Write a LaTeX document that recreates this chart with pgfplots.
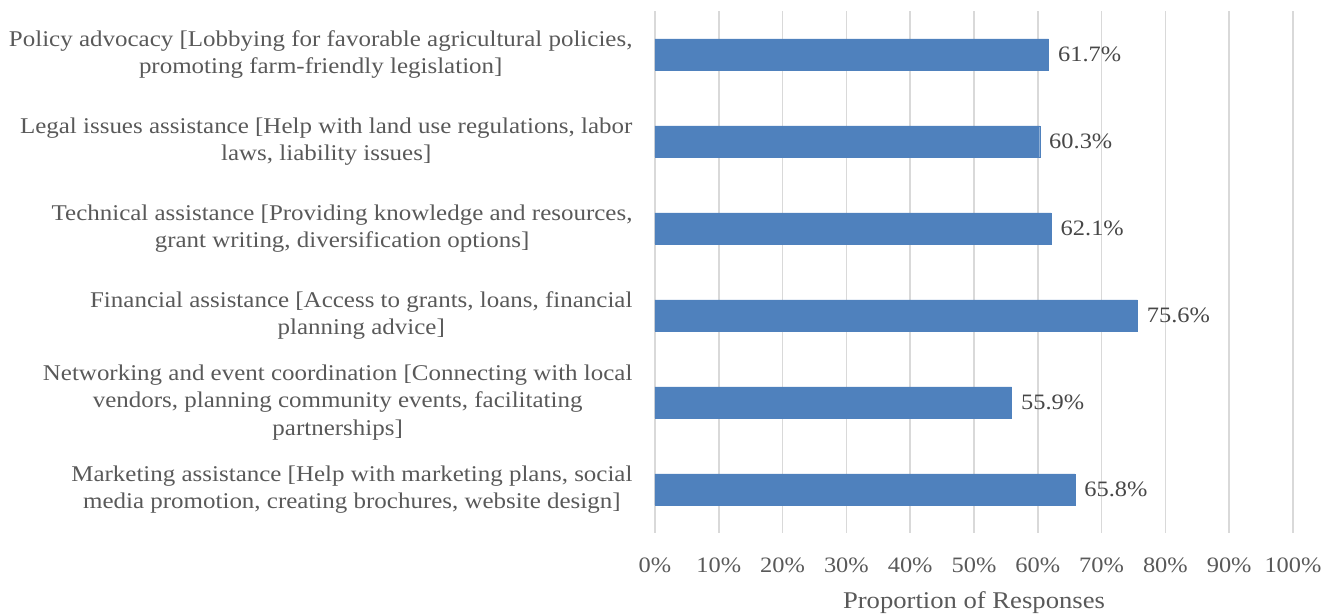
\documentclass[border=0pt]{standalone}
\usepackage{pgfplots}
\pgfplotsset{compat=1.18}
\usepackage{fontspec}
\setmainfont[FakeStretch=1.11]{Liberation Serif}
\definecolor{barblue}{RGB}{79,129,189}
\definecolor{txtgray}{RGB}{89,89,89}
\definecolor{gridgray}{RGB}{217,217,217}
\begin{document}
\begin{tikzpicture}
\begin{axis}[
  scale only axis,
  width=638pt, height=522pt,
  xmin=0, xmax=100,
  ymin=-0.5, ymax=5.5,
  xbar,
  bar width=31pt,
  axis line style={draw=none},
  major tick length=0pt,
  xmajorgrids,
  major grid style={gridgray, line width=1.5pt},
  xtick={0,10,...,100},
  xticklabels={0\%,10\%,20\%,30\%,40\%,50\%,60\%,70\%,80\%,90\%,100\%},
  xticklabel style={font=\fontsize{22}{25}\selectfont, text=txtgray, yshift=-21pt},
  ytick={0,1,2,3,4,5},
  yticklabels={
    {Marketing assistance [Help with marketing plans, social\\media promotion, creating brochures, website design]},
    {Networking and event coordination [Connecting with local\\vendors, planning community events, facilitating\\partnerships]},
    {Financial assistance [Access to grants, loans, financial\\planning advice]},
    {Technical assistance [Providing knowledge and resources,\\grant writing, diversification options]},
    {Legal issues assistance [Help with land use regulations, labor\\laws, liability issues]},
    {Policy advocacy [Lobbying for favorable agricultural policies,\\promoting farm-friendly legislation]}
  },
  yticklabel style={font=\fontsize{22.5}{27.5}\selectfont, text=txtgray, align=center, xshift=-19pt},
  xlabel={Proportion of Responses},
  xlabel style={font=\fontsize{24}{28}\selectfont, text=txtgray, yshift=-12pt},
  /pgf/number format/assume math mode=true,
  nodes near coords={\pgfmathprintnumber[fixed,precision=1,fixed zerofill,assume math mode=true]{\pgfplotspointmeta}\%},
  nodes near coords style={font=\fontsize{22}{25}\selectfont, text=txtgray!80!black, xshift=6pt},
  clip=false,
]
\addplot[fill=barblue, draw=barblue] coordinates {
  (65.8,0) (55.9,1) (75.6,2) (62.1,3) (60.3,4) (61.7,5)
};
\end{axis}
\pgfresetboundingbox
\path (-655pt,-82pt) rectangle (670pt,533pt);
\end{tikzpicture}
\end{document}
